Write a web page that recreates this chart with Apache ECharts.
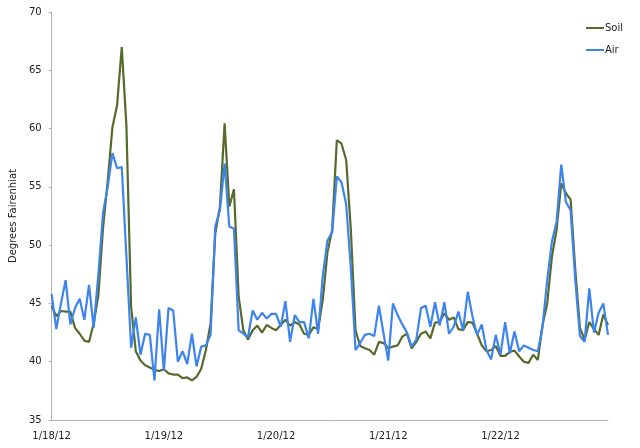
<!DOCTYPE html>
<html>
<head>
<meta charset="utf-8">
<script src="https://cdn.jsdelivr.net/npm/echarts@6/dist/echarts.min.js"></script>
<style>
  html, body { margin: 0; padding: 0; background: #fff; }
  #chart { width: 640px; height: 448px; }
</style>
</head>
<body>
<div id="chart"></div>
<script>
// hourly readings, 1/18/12 00:00 through 1/22/12 23:00
const days = ['1/18/12', '1/19/12', '1/20/12', '1/21/12', '1/22/12'];
const hours = ['00', '01', '02', '03', '04', '05', '06', '07', '08', '09', '10', '11',
               '12', '13', '14', '15', '16', '17', '18', '19', '20', '21', '22', '23'];

const soil = [
  44.8, 43.9, 44.35, 44.3, 44.3, 42.9, 42.4, 41.8, 41.7, 43.3, 45.7, 51.5,
  55.5, 60.1, 62.0, 67.0, 60.2, 44.7, 40.9, 40.1, 39.7, 39.5, 39.3, 39.2,
  39.35, 39.0, 38.9, 38.9, 38.6, 38.65, 38.4, 38.7, 39.4, 41.0, 43.3, 51.0,
  53.3, 60.45, 53.3, 54.8, 45.6, 42.7, 41.9, 42.7, 43.1, 42.5, 43.15, 42.9,
  42.7, 43.15, 43.6, 43.1, 43.4, 43.2, 42.4, 42.3, 42.95, 42.8, 45.3, 49.4,
  51.3, 59.0, 58.7, 57.3, 51.3, 42.7, 41.35, 41.15, 41.0, 40.6, 41.7, 41.6,
  41.15, 41.3, 41.4, 42.15, 42.4, 41.15, 41.7, 42.4, 42.6, 42.0, 43.35, 43.4,
  44.15, 43.6, 43.8, 42.8, 42.7, 43.4, 43.35, 42.4, 41.4, 40.9, 41.0, 41.35,
  40.5, 40.5, 40.85, 40.95, 40.45, 40.0, 39.9, 40.6, 40.15, 43.15, 45.0, 49.0,
  51.3, 55.3, 54.45, 53.9, 47.9, 42.9, 41.9, 43.4, 42.8, 42.3, 44.05, 43.15
];

const air = [
  45.8, 42.8, 45.0, 47.0, 43.2, 44.6, 45.4, 43.6, 46.6, 42.9, 47.5, 52.8,
  55.0, 57.9, 56.6, 56.7, 49.0, 41.2, 43.8, 40.6, 42.4, 42.3, 38.4, 44.5,
  39.2, 44.6, 44.4, 40.0, 40.9, 39.8, 42.4, 39.6, 41.3, 41.4, 42.3, 51.6,
  53.0, 57.0, 51.6, 51.4, 42.7, 42.4, 42.1, 44.4, 43.6, 44.2, 43.7, 44.1,
  44.1, 43.0, 45.2, 41.7, 44.0, 43.4, 43.4, 42.0, 45.4, 42.4, 47.4, 50.4,
  51.1, 55.9, 55.4, 53.5, 48.0, 41.0, 41.6, 42.3, 42.4, 42.2, 44.8, 42.4,
  40.1, 45.0, 44.0, 43.2, 42.5, 41.3, 41.9, 44.6, 44.8, 43.0, 45.1, 43.1,
  45.1, 42.4, 43.0, 44.3, 42.7, 46.0, 43.9, 42.3, 43.2, 41.0, 40.2, 42.3,
  40.6, 43.4, 40.7, 42.6, 40.9, 41.4, 41.2, 41.0, 40.9, 43.0, 47.0, 50.3,
  52.0, 56.9, 53.7, 53.0, 47.0, 42.2, 41.7, 46.3, 42.5, 44.2, 45.0, 42.3
];

const categories = [];
days.forEach(d => hours.forEach(h => categories.push(d + ' ' + h + ':00')));

const fontFamily = 'DejaVu Sans';
const textColor = '#222';

let chart = echarts.init(document.getElementById('chart'));
let option = {
    animation: false,
    backgroundColor: '#fff',
    grid: {
        left: 46,
        right: 32,
        top: 12,
        bottom: 28
    },
    legend: {
        right: 12,
        top: 18,
        orient: 'vertical',
        itemWidth: 18,
        itemHeight: 2,
        itemGap: 12,
        icon: 'rect',
        textStyle: { fontFamily: fontFamily, fontSize: 10, color: textColor, padding: [0, 0, 0, -4] },
        data: ['Soil', 'Air']
    },
    xAxis: {
        type: 'category',
        data: categories,
        boundaryGap: false,
        axisLine: { lineStyle: { color: '#b4b4b4', width: 1 } },
        axisTick: { show: false },
        axisLabel: {
            interval: 23,
            margin: 11,
            fontFamily: fontFamily,
            fontSize: 10,
            color: textColor,
            formatter: v => v.split(' ')[0] //只显示日期
        },
        splitLine: { show: false }
    },
    yAxis: {
        type: 'value',
        min: 35,
        max: 70,
        interval: 5,
        name: 'Degrees Fairenhiat',
        nameLocation: 'middle',
        nameGap: 30,
        nameTextStyle: { fontFamily: fontFamily, fontSize: 10, color: textColor },
        axisLine: { show: true, lineStyle: { color: '#b4b4b4', width: 1 } },
        axisTick: { show: true, length: 3, lineStyle: { color: '#b4b4b4' } },
        axisLabel: { margin: 10, fontFamily: fontFamily, fontSize: 10, color: textColor },
        splitLine: { show: false }
    },
    series: [
        {
            name: 'Soil',
            type: 'line',
            data: soil,
            showSymbol: false,
            symbol: 'none',
            lineStyle: { color: '#566b2b', width: 2.2 },
            itemStyle: { color: '#566b2b' },
            z: 1
        },
        {
            name: 'Air',
            type: 'line',
            data: air,
            showSymbol: false,
            symbol: 'none',
            lineStyle: { color: '#3d84ee', width: 2.2 },
            itemStyle: { color: '#3d84ee' },
            z: 2
        }
    ]
};
chart.setOption(option);
</script>
</body>
</html>
